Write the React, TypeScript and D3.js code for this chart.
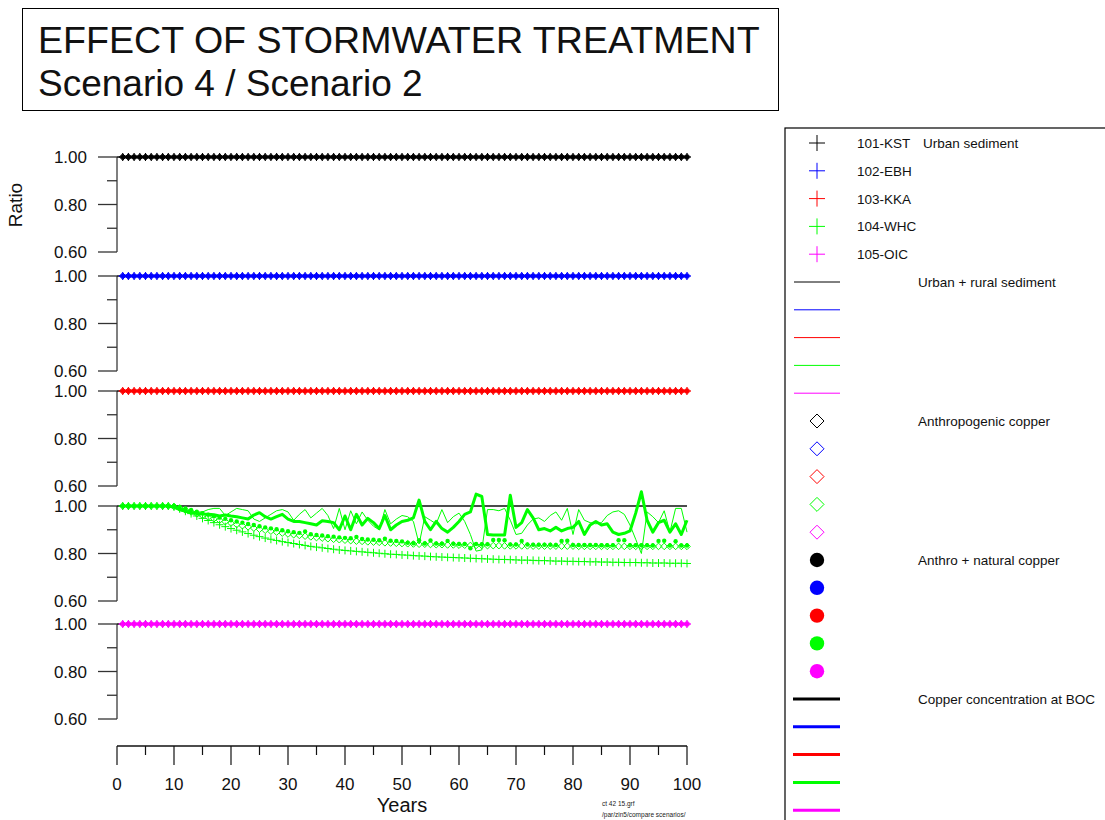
import React from "react";
import * as d3 from "d3";

// ---------- data ----------
const STATIONS = ["101-KST", "102-EBH", "103-KKA", "104-WHC", "105-OIC"];
const STATION_COLORS = ["#000000", "#0000ff", "#ff0000", "#00ff00", "#ff00ff"];
const SERIES_LABELS = [
  "Urban sediment",
  "Urban + rural sediment",
  "Anthropogenic copper",
  "Anthro + natural copper",
  "Copper concentration at BOC",
];
const X_TICKS = [0, 5, 10, 15, 20, 25, 30, 35, 40, 45, 50, 55, 60, 65, 70, 75, 80, 85, 90, 95, 100];
const Y_TICKS = [0.6, 0.7, 0.8, 0.9, 1.0];

// stations 101, 102, 103, 105: ratio stays at 1.00 for every year (years 1..100)
const FLAT = [
  1, 1, 1, 1, 1, 1, 1, 1, 1, 1, 1, 1, 1, 1, 1, 1, 1, 1, 1, 1,
  1, 1, 1, 1, 1, 1, 1, 1, 1, 1, 1, 1, 1, 1, 1, 1, 1, 1, 1, 1,
  1, 1, 1, 1, 1, 1, 1, 1, 1, 1, 1, 1, 1, 1, 1, 1, 1, 1, 1, 1,
  1, 1, 1, 1, 1, 1, 1, 1, 1, 1, 1, 1, 1, 1, 1, 1, 1, 1, 1, 1,
  1, 1, 1, 1, 1, 1, 1, 1, 1, 1, 1, 1, 1, 1, 1, 1, 1, 1, 1, 1,
];

// 104-WHC, years 1..100
const WHC_URBAN_SEDIMENT = [
  1, 1, 1, 1, 1, 1, 1, 1, 1, 0.996,
  0.988, 0.978, 0.968, 0.958, 0.948, 0.939, 0.93, 0.921, 0.913, 0.905,
  0.898, 0.891, 0.884, 0.877, 0.871, 0.865, 0.86, 0.855, 0.85, 0.846,
  0.842, 0.838, 0.834, 0.83, 0.827, 0.824, 0.821, 0.818, 0.815, 0.813,
  0.811, 0.809, 0.807, 0.805, 0.803, 0.801, 0.799, 0.797, 0.796, 0.794,
  0.793, 0.791, 0.79, 0.789, 0.787, 0.786, 0.785, 0.784, 0.783, 0.782,
  0.781, 0.78, 0.779, 0.778, 0.777, 0.776, 0.775, 0.775, 0.774, 0.773,
  0.772, 0.772, 0.771, 0.77, 0.77, 0.769, 0.768, 0.768, 0.767, 0.767,
  0.766, 0.766, 0.765, 0.765, 0.764, 0.764, 0.763, 0.763, 0.762, 0.762,
  0.762, 0.761, 0.761, 0.76, 0.76, 0.76, 0.759, 0.759, 0.759, 0.758,
];
const WHC_URBAN_RURAL = [
  1, 1, 1, 1, 1, 1, 1, 1, 1, 0.997,
  0.99, 0.985, 0.98, 0.975, 0.975, 0.985, 0.99, 0.99, 0.96, 0.975,
  0.99, 0.985, 0.98, 0.945, 0.935, 0.95, 0.965, 0.98, 0.985, 0.975,
  0.94, 0.965, 0.985, 0.95, 0.97, 0.99, 0.96, 0.905, 0.99, 0.9,
  0.98, 0.925, 0.975, 0.94, 0.915, 0.9, 0.985, 0.925, 0.945, 0.96,
  0.955, 0.935, 0.84, 0.955, 0.94, 0.925, 0.985, 0.93, 0.955, 0.97,
  0.935, 0.88, 0.81, 0.815, 0.985, 0.985, 0.98, 0.99, 0.94, 0.88,
  0.885, 0.92, 0.945, 0.95, 0.935, 0.96, 0.975, 0.94, 0.99, 0.88,
  0.985, 0.94, 0.93, 0.925, 0.93, 0.96, 0.975, 0.98, 0.965, 0.92,
  0.86, 0.8, 0.975, 0.955, 0.93, 0.98, 0.89, 0.99, 0.99, 0.89,
];
const WHC_ANTHRO = [
  1, 1, 1, 1, 1, 1, 1, 1, 1, 0.998,
  0.991, 0.983, 0.975, 0.967, 0.96, 0.953, 0.946, 0.94, 0.934, 0.928,
  0.922, 0.917, 0.912, 0.907, 0.902, 0.898, 0.894, 0.89, 0.886, 0.882,
  0.879, 0.876, 0.873, 0.87, 0.867, 0.865, 0.862, 0.86, 0.858, 0.856,
  0.854, 0.852, 0.851, 0.849, 0.848, 0.847, 0.845, 0.844, 0.843, 0.842,
  0.841, 0.84, 0.839, 0.839, 0.838, 0.837, 0.837, 0.836, 0.836, 0.835,
  0.835, 0.834, 0.834, 0.834, 0.833, 0.833, 0.833, 0.832, 0.832, 0.832,
  0.832, 0.832, 0.831, 0.831, 0.831, 0.831, 0.831, 0.831, 0.831, 0.831,
  0.83, 0.83, 0.83, 0.83, 0.83, 0.83, 0.83, 0.83, 0.83, 0.83,
  0.83, 0.83, 0.83, 0.83, 0.83, 0.83, 0.83, 0.83, 0.83, 0.83,
];
const WHC_ANTHRO_NATURAL = [
  1, 1, 1, 1, 1, 1, 1, 1, 1, 1,
  0.996, 0.99, 0.983, 0.976, 0.97, 0.963, 0.957, 0.951, 0.946, 0.94,
  0.935, 0.93, 0.924, 0.92, 0.915, 0.91, 0.906, 0.902, 0.898, 0.894,
  0.89, 0.887, 0.893, 0.881, 0.878, 0.876, 0.873, 0.871, 0.868, 0.866,
  0.864, 0.87, 0.861, 0.859, 0.858, 0.856, 0.862, 0.854, 0.853, 0.851,
  0.845, 0.843, 0.856, 0.842, 0.855, 0.842, 0.841, 0.853, 0.841, 0.84,
  0.84, 0.822, 0.84, 0.839, 0.839, 0.857, 0.857, 0.856, 0.838, 0.838,
  0.853, 0.838, 0.837, 0.837, 0.837, 0.837, 0.836, 0.853, 0.854, 0.836,
  0.836, 0.836, 0.836, 0.836, 0.835, 0.835, 0.835, 0.856, 0.856, 0.835,
  0.835, 0.835, 0.835, 0.834, 0.853, 0.854, 0.834, 0.852, 0.834, 0.834,
];
const WHC_BOC = [
  1, 1, 1, 1, 1, 1, 1, 1, 1, 0.995,
  0.985, 0.978, 0.972, 0.968, 0.966, 0.965, 0.963, 0.958, 0.962, 0.958,
  0.955, 0.95, 0.945, 0.962, 0.972, 0.955, 0.945, 0.955, 0.965, 0.945,
  0.935, 0.935, 0.93, 0.925, 0.92, 0.938, 0.935, 0.93, 0.9, 0.958,
  0.9, 0.965, 0.92, 0.948, 0.93, 0.905, 0.96, 0.9, 0.92, 0.935,
  0.94, 0.95, 1.025, 0.935, 0.9, 0.935, 0.905, 0.89, 0.91, 0.935,
  0.965, 0.975, 1.05, 1.04, 0.88, 0.878, 0.878, 0.878, 1.045, 0.91,
  0.93, 0.985, 0.95, 0.9, 0.905, 0.895, 0.91, 0.895, 0.905, 0.91,
  0.935, 0.88, 0.92, 0.935, 0.92, 0.925, 0.89, 0.88, 0.885, 0.895,
  0.97, 1.06, 0.94, 0.89, 0.93, 0.94, 0.89, 0.925, 0.88, 0.94,
];

// per station: [urban sediment, urban+rural, anthro, anthro+natural, BOC]
const STATION_SERIES = [
  [FLAT, FLAT, FLAT, FLAT, FLAT],
  [FLAT, FLAT, FLAT, FLAT, FLAT],
  [FLAT, FLAT, FLAT, FLAT, FLAT],
  [WHC_URBAN_SEDIMENT, WHC_URBAN_RURAL, WHC_ANTHRO, WHC_ANTHRO_NATURAL, WHC_BOC],
  [FLAT, FLAT, FLAT, FLAT, FLAT],
];

// ---------- layout ----------
const W = 1105;
const H = 820;
const FONT = "'Liberation Sans', Arial, Helvetica, sans-serif";
const PANEL_TOPS = [157, 276, 391, 506, 624];
const PANEL_H = 95;
const AXIS_X = 117;
const X_AXIS_Y = 746;

const x = d3.scaleLinear().domain([0, 100]).range([AXIS_X, 687]);

function plusPath(cx: number, cy: number, r: number) {
  return `M${cx - r},${cy}H${cx + r}M${cx},${cy - r}V${cy + r}`;
}
function diamondPath(cx: number, cy: number, r: number) {
  return `M${cx},${cy - r}L${cx + r},${cy}L${cx},${cy + r}L${cx - r},${cy}Z`;
}

function Panel({ idx }: { idx: number }) {
  const top = PANEL_TOPS[idx];
  const y = d3.scaleLinear().domain([0.6, 1.0]).range([top + PANEL_H, top]);
  const color = STATION_COLORS[idx];
  const [sed, rural, anthro, anat, boc] = STATION_SERIES[idx];
  const line = d3
    .line<number>()
    .x((_, i) => x(i + 1))
    .y((d) => y(d));
  return (
    <g>
      <line x1={AXIS_X} x2={AXIS_X} y1={y(1.0)} y2={y(0.6)} stroke="#555" strokeWidth={1.5} />
      {Y_TICKS.map((t, i) => {
        const major = i % 2 === 0;
        return (
          <line
            key={t}
            x1={major ? AXIS_X - 19 : AXIS_X - 10}
            x2={AXIS_X}
            y1={y(t)}
            y2={y(t)}
            stroke="#333"
            strokeWidth={1.3}
          />
        );
      })}
      {Y_TICKS.filter((_, i) => i % 2 === 0).map((t) => (
        <text
          key={t}
          x={87}
          y={y(t) + 6}
          textAnchor="end"
          fontSize={17}
          fontFamily={FONT}
          fill="#111"
        >
          {t.toFixed(2)}
        </text>
      ))}
      <line x1={AXIS_X} x2={x(100)} y1={y(1)} y2={y(1)} stroke="#111" strokeWidth={1.5} />
      <path d={line(rural) || ""} fill="none" stroke={color} strokeWidth={1} />
      <path
        d={sed.map((v, i) => plusPath(x(i + 1), y(v), 4)).join("")}
        fill="none"
        stroke={color}
        strokeWidth={1}
      />
      <path
        d={anthro.map((v, i) => diamondPath(x(i + 1), y(v), 3.3)).join("")}
        fill="none"
        stroke={color}
        strokeWidth={1}
      />
      {anat.map((v, i) => (
        <circle key={i} cx={x(i + 1)} cy={y(v)} r={2.2} fill={color} />
      ))}
      <path d={line(boc) || ""} fill="none" stroke={color} strokeWidth={3} strokeLinejoin="round" />
    </g>
  );
}

function Legend() {
  const x0 = 785;
  const top = 128;
  const step = 27.8;
  const mx = 817;
  const rows: React.ReactNode[] = [];
  for (let s = 0; s < 5; s++) {
    for (let k = 0; k < 5; k++) {
      const r = s * 5 + k;
      const cy = 143 + r * step;
      const c = STATION_COLORS[k];
      let mark: React.ReactNode = null;
      if (s === 0) mark = <path d={plusPath(mx, cy, 8)} stroke={c} strokeWidth={1} fill="none" />;
      if (s === 1) mark = <line x1={794} x2={840} y1={cy} y2={cy} stroke={c} strokeWidth={1} />;
      if (s === 2) mark = <path d={diamondPath(mx, cy, 7)} stroke={c} strokeWidth={1} fill="none" />;
      if (s === 3) mark = <circle cx={mx} cy={cy} r={7.2} fill={c} />;
      if (s === 4) mark = <line x1={793} x2={840} y1={cy} y2={cy} stroke={c} strokeWidth={3} />;
      rows.push(
        <g key={r}>
          {mark}
          {s === 0 && (
            <text x={857} y={cy + 5} fontSize={13.5} fontFamily={FONT} fill="#111">
              {STATIONS[k]}
            </text>
          )}
          {k === 0 && (
            <text x={s === 0 ? 923 : 918} y={cy + 5} fontSize={13.5} fontFamily={FONT} fill="#111">
              {SERIES_LABELS[s]}
            </text>
          )}
        </g>
      );
    }
  }
  return (
    <g>
      <rect x={x0} y={top} width={W - x0 + 10} height={H - top + 10} fill="none" stroke="#000" strokeWidth={1.2} />
      {rows}
    </g>
  );
}

export default function App() {
  return (
    <svg
      width={W}
      height={H}
      style={{ position: "absolute", left: 0, top: 0, background: "#fff" }}
    >
      <rect x={0} y={0} width={W} height={H} fill="#fff" />
      <rect x={22.5} y={8.5} width={756} height={102} fill="none" stroke="#000" strokeWidth={1} />
      <text x={38} y={53} fontSize={37.6} fontFamily={FONT} fill="#111">
        EFFECT OF STORMWATER TREATMENT
      </text>
      <text x={38} y={96} fontSize={37} fontFamily={FONT} fill="#111">
        Scenario 4 / Scenario 2
      </text>
      <text
        transform="translate(22,205) rotate(-90)"
        textAnchor="middle"
        fontSize={19}
        fontFamily={FONT}
        fill="#111"
      >
        Ratio
      </text>
      {STATIONS.map((_, i) => (
        <Panel key={i} idx={i} />
      ))}
      <line x1={x(0)} x2={x(100)} y1={X_AXIS_Y} y2={X_AXIS_Y} stroke="#111" strokeWidth={1.5} />
      {X_TICKS.map((t) => (
        <line
          key={t}
          x1={x(t)}
          x2={x(t)}
          y1={X_AXIS_Y}
          y2={X_AXIS_Y + (t % 10 === 0 ? 19 : 9)}
          stroke="#111"
          strokeWidth={1.2}
        />
      ))}
      {X_TICKS.filter((t) => t % 10 === 0).map((t) => (
        <text
          key={t}
          x={x(t)}
          y={790}
          textAnchor="middle"
          fontSize={17}
          fontFamily={FONT}
          fill="#111"
        >
          {t}
        </text>
      ))}
      <text x={x(50)} y={812} textAnchor="middle" fontSize={20} fontFamily={FONT} fill="#111">
        Years
      </text>
      <text x={602} y={806} fontSize={6.5} fontFamily={FONT} fill="#222">
        ct 42 15.grf
      </text>
      <text x={602} y={817} fontSize={6.5} fontFamily={FONT} fill="#222">
        /par/zin5/compare scenarios/
      </text>
      <Legend />
    </svg>
  );
}
